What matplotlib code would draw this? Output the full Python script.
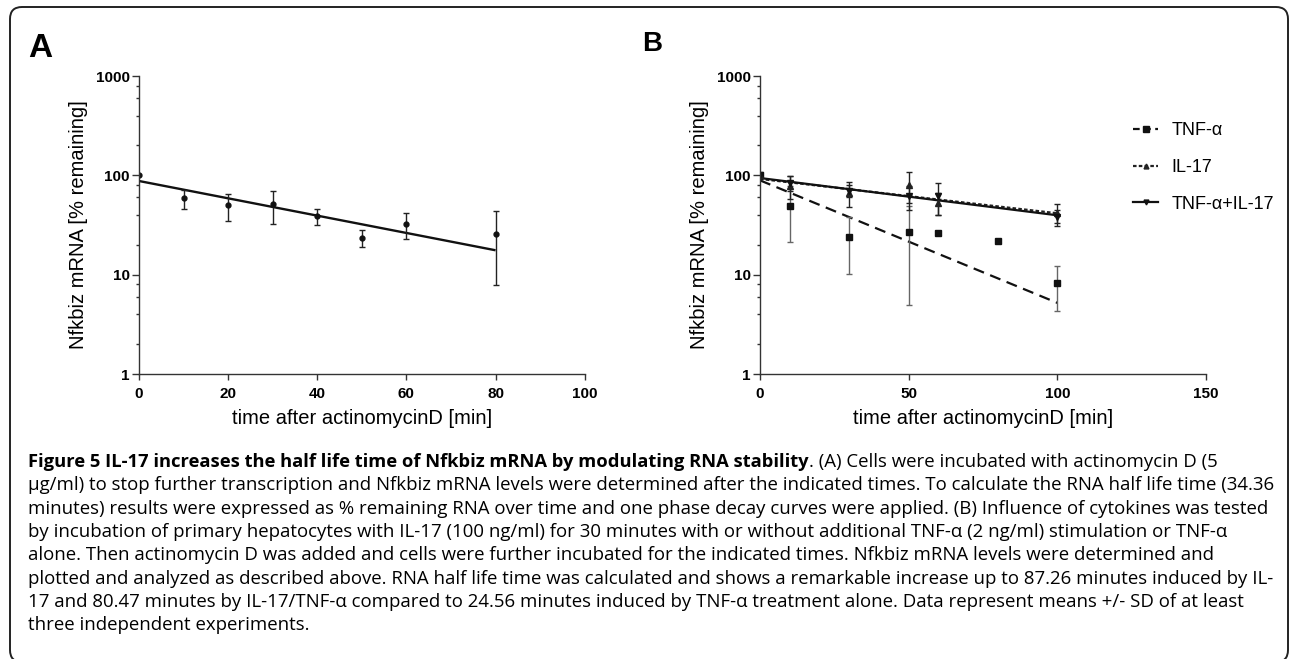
import numpy as np
import matplotlib
matplotlib.use('Agg')
import matplotlib.pyplot as plt
import matplotlib.ticker as ticker
import matplotlib.patches as mpatches
from matplotlib.lines import Line2D
from matplotlib.transforms import IdentityTransform

plt.rcParams['font.family'] = ['Liberation Sans', 'DejaVu Sans']

# =======================================
# Data
# =======================================

# --- panel A: actinomycin D alone
time_a = [0, 10, 20, 30, 40, 50, 60, 80]
mean_a = [100, 59, 50, 51, 38.7, 23.4, 32.6, 25.8]
sd_a = [np.nan, 13, 15, 19, 7, 4.5, 9.5, 18]
fit_a_t = [0, 80]
fit_a_y = [87.7, 17.6]

# --- panel B: cytokine treatments
time_b = [0, 10, 30, 50, 60, 80, 100]
tnf_mean = [100, 49.5, 24, 27, 26, 22, 8.3]
tnf_sd = [np.nan, 28, 13.8, 22, np.nan, np.nan, 4]
il17_mean = [100, 78, 67, 80, 53, np.nan, 42]
il17_sd = [np.nan, 20, 19, 27, 13, np.nan, 9]
combo_mean = [100, 84, 70, 62, 62, np.nan, 38]
combo_sd = [np.nan, 15, 10, 17, 22, np.nan, 7]

fit_b_t = [0, 100]
fit_tnf_y = [89, 5.2]
fit_il17_y = [92, 41.5]
fit_combo_y = [94, 39.6]

labels_b = ['TNF-\u03b1', 'IL-17', 'TNF-\u03b1+IL-17']

caption_bold = 'Figure 5 IL-17 increases the half life time of Nfkbiz mRNA by modulating RNA stability'
caption_first = '. (A) Cells were incubated with actinomycin D (5'
caption_lines = [
    '\u00b5g/ml) to stop further transcription and Nfkbiz mRNA levels were determined after the indicated times. To calculate the RNA half life time (34.36',
    'minutes) results were expressed as % remaining RNA over time and one phase decay curves were applied. (B) Influence of cytokines was tested',
    'by incubation of primary hepatocytes with IL-17 (100 ng/ml) for 30 minutes with or without additional TNF-\u03b1 (2 ng/ml) stimulation or TNF-\u03b1',
    'alone. Then actinomycin D was added and cells were further incubated for the indicated times. Nfkbiz mRNA levels were determined and',
    'plotted and analyzed as described above. RNA half life time was calculated and shows a remarkable increase up to 87.26 minutes induced by IL-',
    '17 and 80.47 minutes by IL-17/TNF-\u03b1 compared to 24.56 minutes induced by TNF-\u03b1 treatment alone. Data represent means +/- SD of at least',
    'three independent experiments.',
]

# =======================================
# Figure
# =======================================

W, H = 1290, 659
AX_COL = '#333333'
fig = plt.figure(figsize=(W / 100, H / 100), dpi=100)

# rounded frame around the whole panel
frame = mpatches.FancyBboxPatch((10, -3), 1278, 655, boxstyle='round,pad=0,rounding_size=12',
                                transform=IdentityTransform(), fill=False, edgecolor='#222222', lw=1.4)
fig.add_artist(frame)


def px_axes(x0, x1, y_top, y_bot):
    return fig.add_axes([x0 / W, 1 - y_bot / H, (x1 - x0) / W, (y_bot - y_top) / H])


def style_axes(ax, xmax, xstep):
    ax.set_yscale('log')
    ax.set_ylim(1, 1000)
    ax.set_xlim(0, xmax)
    for s in ['top', 'right']:
        ax.spines[s].set_visible(False)
    for s in ['left', 'bottom']:
        ax.spines[s].set_color(AX_COL)
        ax.spines[s].set_linewidth(1.0)
    ax.yaxis.set_major_locator(ticker.FixedLocator([1, 10, 100, 1000]))
    ax.yaxis.set_major_formatter(ticker.FixedFormatter(['1', '10', '100', '1000']))
    ax.yaxis.set_minor_locator(ticker.LogLocator(base=10, subs=[2, 4, 6, 8]))
    ax.yaxis.set_minor_formatter(ticker.NullFormatter())
    ax.set_xticks(np.arange(0, xmax + 1, xstep))
    ax.tick_params(axis='y', which='major', length=5, width=1, color=AX_COL, pad=1.5)
    ax.tick_params(axis='y', which='minor', length=2, width=1, color=AX_COL)
    ax.tick_params(axis='x', which='major', length=4, width=1, color=AX_COL, pad=5)
    for lab in ax.get_xticklabels() + ax.get_yticklabels():
        lab.set_fontweight('bold')
        lab.set_fontsize(11)
    ax.set_ylabel('Nfkbiz mRNA [% remaining]', fontsize=14.5)
    ax.set_xlabel('time after actinomycinD [min]', fontsize=14.5)
    ax.yaxis.set_label_coords(-0.114, 0.5)
    ax.xaxis.set_label_coords(0.5, -0.118)
    ax.patch.set_visible(False)


# --- panel A
ax_a = px_axes(139, 584.7, 76, 374)
style_axes(ax_a, 100, 20)
ax_a.plot(fit_a_t, fit_a_y, color='#111111', lw=1.7, solid_capstyle='butt')
ax_a.errorbar(time_a, mean_a, yerr=sd_a, fmt='o', color='#111111', ms=3.5,
              ecolor='#222222', elinewidth=1, capsize=2.5, capthick=1)

# --- panel B
ax_b = px_axes(760, 1206, 76, 374)
style_axes(ax_b, 150, 50)
ax_b.plot(fit_b_t, fit_tnf_y, color='#111111', lw=1.6, dashes=(5, 3))
ax_b.plot(fit_b_t, fit_il17_y, color='#222222', lw=1.6, dashes=(1.6, 1.0))
ax_b.plot(fit_b_t, fit_combo_y, color='#111111', lw=1.6)
ax_b.errorbar(time_b, tnf_mean, yerr=tnf_sd, fmt='s', color='#111111', ms=4.5,
              ecolor='#666666', elinewidth=1, capsize=2.5, capthick=1)
ax_b.errorbar(time_b, il17_mean, yerr=il17_sd, fmt='^', color='#222222', ms=4,
              ecolor='#222222', elinewidth=1, capsize=2.5, capthick=1)
ax_b.errorbar(time_b, combo_mean, yerr=combo_sd, fmt='v', color='#111111', ms=4,
              ecolor='#222222', elinewidth=1, capsize=2.5, capthick=1)

handles = [
    Line2D([], [], color='#111111', lw=1.6, dashes=(3, 2), marker='s', ms=4.5),
    Line2D([], [], color='#222222', lw=1.6, dashes=(1.6, 1.0), marker='^', ms=3.5),
    Line2D([], [], color='#111111', lw=1.6, marker='v', ms=3.5),
]
ax_b.legend(handles, labels_b, loc='upper left', bbox_to_anchor=(1133 / W, 1 - 122 / H),
            bbox_transform=fig.transFigure, frameon=False, fontsize=13,
            handlelength=1.4, handletextpad=0.75, labelspacing=1.1, borderpad=0, borderaxespad=0)

# --- panel letters
fig.text(28 / W, 1 - 57 / H, 'A', fontsize=24, fontweight='bold', va='baseline')
fig.text(642 / W, 1 - 51 / H, 'B', fontsize=20, fontweight='bold', va='baseline')

# --- caption
cap_font = ['Open Sans', 'DejaVu Sans']
cap_size = 13.4
cap_bold_size = 13.2
x0 = 28 / W
y0 = 467
dy = 23.3
renderer = fig.canvas.get_renderer()
t_bold = fig.text(x0, 1 - y0 / H, caption_bold, fontsize=cap_bold_size, fontweight='bold',
                  family=cap_font, va='baseline')
bb = t_bold.get_window_extent(renderer=renderer)
fig.text(bb.x1 / W, 1 - y0 / H, caption_first, fontsize=cap_size, family=cap_font, va='baseline')
for i, line in enumerate(caption_lines):
    fig.text(x0, 1 - (y0 + dy * (i + 1)) / H, line, fontsize=cap_size, family=cap_font, va='baseline')

fig.savefig('out.png', dpi=100)
